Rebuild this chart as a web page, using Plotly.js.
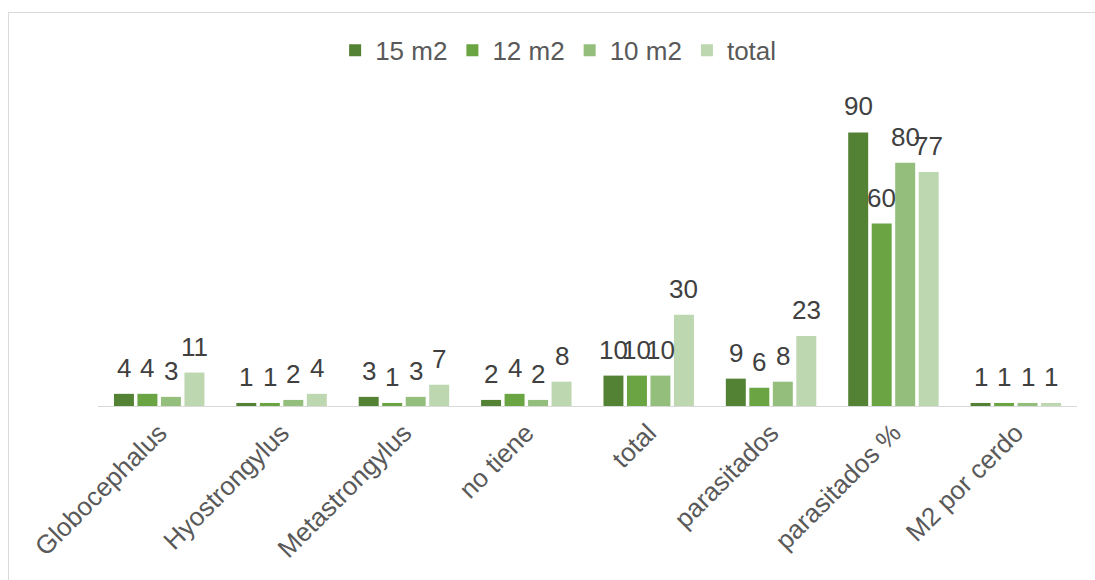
<!DOCTYPE html>
<html>
<head>
<meta charset="utf-8">
<script src="https://cdn.plot.ly/plotly-3.0.1.min.js"></script>
<style>
  html, body { margin: 0; padding: 0; background: #ffffff; }
  #wrap { position: relative; width: 1095px; height: 580px; overflow: hidden; }
  #frame { position: absolute; left: 8px; top: 12px; width: 1090px; height: 600px;
           border: 1.3px solid #d9d9d9; box-sizing: border-box; }
  #chart { position: absolute; left: 0; top: 0; width: 1095px; height: 580px; }
</style>
</head>
<body>
<div id="wrap">
  <div id="frame"></div>
  <div id="chart"></div>
</div>
<script>
// Categories along the x axis
const categories = ["Globocephalus", "Hyostrongylus", "Metastrongylus", "no tiene",
                    "total", "parasitados", "parasitados %", "M2 por cerdo"];

// Series names and values
const seriesNames = ["15 m2", "12 m2", "10 m2", "total"];
const m15   = [4, 1, 3, 2, 10, 9, 90, 1];
const m12   = [4, 1, 1, 4, 10, 6, 60, 1];
const m10   = [3, 2, 3, 2, 10, 8, 80, 1];
const total = [11, 4, 7, 8, 30, 23, 77, 1];

const seriesValues = [m15, m12, m10, total];
const seriesColors = ["#548235", "#6aa443", "#93be7b", "#bdd7b0"];

const FONT = "'Liberation Sans', Arial, sans-serif";

const traces = seriesValues.map((vals, i) => ({
  type: "bar",
  name: seriesNames[i],
  x: categories,
  y: vals,
  marker: { color: seriesColors[i] },
  hoverinfo: "x+y+name"
}));

// Value labels above each bar; bar offsets inside a group are in category units
const bargap = 0.232;
const groupWidth = 1 - bargap;
const slot = groupWidth / seriesValues.length;
const annotations = [];
seriesValues.forEach((vals, i) => {
  vals.forEach((v, j) => {
    annotations.push({
      x: j + (i - (seriesValues.length - 1) / 2) * slot,
      y: v,
      xref: "x", yref: "y",
      text: String(v),
      showarrow: false,
      yanchor: "bottom",
      yshift: 9,
      font: { family: FONT, size: 26, color: "#404040" }
    });
  });
});

const layout = {
  width: 1095,
  height: 580,
  margin: { l: 98, r: 18, t: 102, b: 174 },
  paper_bgcolor: "rgba(0,0,0,0)",
  plot_bgcolor: "rgba(0,0,0,0)",
  barmode: "group",
  bargap: bargap,
  bargroupgap: 0.15,
  font: { family: FONT, color: "#595959", size: 26 },
  showlegend: true,
  legend: {
    orientation: "h",
    x: 0.47, xanchor: "center",
    y: 1.17, yanchor: "middle",
    font: { family: FONT, size: 26, color: "#595959" },
    bgcolor: "rgba(0,0,0,0)"
  },
  xaxis: {
    type: "category",
    tickangle: -45,
    showline: true,
    linecolor: "#d9d9d9",
    linewidth: 1.3,
    ticks: "",
    showgrid: false,
    tickfont: { family: FONT, size: 26, color: "#595959" },
    fixedrange: true
  },
  yaxis: {
    range: [0, 100],
    visible: false,
    showgrid: false,
    zeroline: false,
    fixedrange: true
  },
  annotations: annotations
};

Plotly.newPlot("chart", traces, layout, { displayModeBar: false, staticPlot: true });
</script>
</body>
</html>
